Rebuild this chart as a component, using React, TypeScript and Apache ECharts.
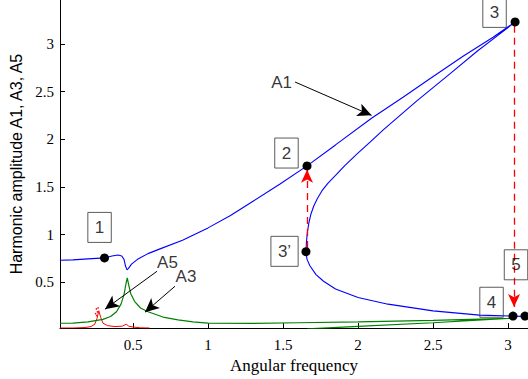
import React, { useEffect, useRef } from "react";
import * as echarts from "echarts";

// Harmonic amplitude curves (angular frequency, amplitude), in continuation order
const a1Curve: [number, number][] = [
  [0.013, 0.73], [0.1, 0.735], [0.2, 0.745], [0.31, 0.755], [0.36, 0.775], [0.4, 0.785],
  [0.425, 0.775], [0.44, 0.74], [0.45, 0.67], [0.46, 0.63], [0.47, 0.645], [0.49, 0.69],
  [0.53, 0.74], [0.6, 0.8], [0.68, 0.85], [0.83, 0.94], [1.0, 1.07], [1.15, 1.2],
  [1.3, 1.35], [1.48, 1.53], [1.66, 1.72], [1.85, 1.94], [2.09, 2.22], [2.3, 2.44],
  [2.469, 2.624], [2.7, 2.87], [2.9, 3.07], [3.047, 3.23],
  [2.95, 3.11], [2.8, 2.93], [2.6, 2.67], [2.39, 2.4], [2.28, 2.25], [2.17, 2.1],
  [2.08, 1.97], [1.99, 1.84], [1.91, 1.72], [1.85, 1.62], [1.8, 1.54], [1.76, 1.46],
  [1.73, 1.38], [1.705, 1.3], [1.685, 1.21], [1.672, 1.12], [1.662, 1.02], [1.656, 0.92],
  [1.653, 0.82],
  [1.66, 0.74], [1.68, 0.67], [1.72, 0.58], [1.77, 0.51], [1.85, 0.43], [2.0, 0.34],
  [2.2, 0.27], [2.5, 0.2], [2.81, 0.155], [3.03, 0.145], [3.133, 0.14],
];

const a3Curve: [number, number][] = [
  [0.013, 0.07], [0.1, 0.072], [0.2, 0.085], [0.26, 0.1], [0.3, 0.11], [0.35, 0.14],
  [0.39, 0.19], [0.42, 0.27], [0.44, 0.37], [0.455, 0.5], [0.462, 0.545], [0.47, 0.48],
  [0.485, 0.38], [0.51, 0.3], [0.55, 0.23], [0.6, 0.19], [0.7, 0.135], [0.8, 0.105],
  [0.9, 0.085], [1.0, 0.072], [1.3, 0.068], [1.6, 0.075], [2.0, 0.085], [2.5, 0.1],
  [3.0, 0.12], [3.047, 0.125],
  [3.0, 0.12], [2.5, 0.075], [2.0, 0.038], [1.8, 0.022], [1.66, 0.012],
];

const a5Curve: [number, number][] = [
  [0.013, 0.02], [0.1, 0.02], [0.18, 0.025], [0.22, 0.035], [0.245, 0.06], [0.26, 0.12],
  [0.272, 0.2], [0.285, 0.13], [0.3, 0.07], [0.33, 0.045], [0.38, 0.035], [0.43, 0.04],
  [0.455, 0.06], [0.47, 0.04], [0.5, 0.03], [0.55, 0.022], [0.61, 0.02],
];

const a5Noise: [number, number][] = [
  [0.25, 0.17], [0.255, 0.22], [0.262, 0.19], [0.267, 0.23], [0.258, 0.15],
];

// Marked states
const stateDots: [number, number][] = [
  [0.31, 0.755], [1.66, 1.72], [1.653, 0.82], [3.047, 3.23], [3.033, 0.145], [3.113, 0.145],
];
const boxNames = ["1", "2", "3", "3\u2019", "4", "5"];
const boxPos: [number, number][] = [
  [0.277, 1.075], [1.523, 1.855], [2.91, 3.33], [1.51, 0.824], [2.89, 0.29], [3.053, 0.683],
];

// Curve labels and arrows
const curveNames = ["A1", "A5", "A3"];
const curveNamePos: [number, number][] = [[1.49, 2.59], [0.73, 0.71], [0.853, 0.563]];
const curveArrows: [number, number][][] = [
  [[1.58, 2.6], [2.09, 2.25]],
  [[0.66, 0.615], [0.313, 0.218]],
  [[0.78, 0.458], [0.58, 0.186]],
];
const jumpArrows: [number, number][][] = [
  [[1.66, 0.86], [1.66, 1.68]],
  [[3.04, 3.19], [3.04, 0.24]],
];

const X_MIN = 0.0133;
const X_MAX = 3.133;
const Y_MIN = 0.019;
const Y_MAX = 3.46;

const SERIF = "'Liberation Serif', 'Times New Roman', Times, serif";
const SANS = "'Liberation Sans', Arial, Helvetica, sans-serif";

const tickFmt = (v: number) =>
  Math.abs(v * 2 - Math.round(v * 2)) < 1e-6 ? String(Math.round(v * 100) / 100) : "";

export default function App() {
  const ref = useRef<HTMLDivElement>(null);
  useEffect(() => {
    if (!ref.current) return;
    const chart = echarts.init(ref.current, null, { renderer: "svg" });
    const axisCommon = {
      type: "value" as const,
      axisLine: { show: true, lineStyle: { color: "#000", width: 1 } },
      axisTick: { show: true, inside: true, length: 5, lineStyle: { color: "#000" } },
      splitLine: { show: false },
      minInterval: 0.5,
      maxInterval: 0.5,
    };
    chart.setOption({
      animation: false,
      grid: { left: 60, right: 0, top: 0, bottom: 50 },
      xAxis: {
        ...axisCommon,
        min: X_MIN,
        max: X_MAX,
        name: "Angular frequency",
        nameLocation: "middle",
        nameGap: 24,
        nameTextStyle: { fontFamily: SERIF, fontSize: 17, color: "#000" },
        axisLabel: {
          showMinLabel: false,
          showMaxLabel: false,
          margin: 9,
          fontFamily: SERIF,
          fontSize: 15,
          color: "#000",
          formatter: tickFmt,
        },
      },
      yAxis: {
        ...axisCommon,
        min: Y_MIN,
        max: Y_MAX,
        name: "Harmonic amplitude A1, A3, A5",
        nameLocation: "middle",
        nameGap: 28,
        nameTextStyle: { fontFamily: SANS, fontSize: 16, color: "#000" },
        axisLabel: {
          showMinLabel: false,
          showMaxLabel: false,
          margin: 6,
          fontFamily: SERIF,
          fontSize: 15,
          color: "#000",
          formatter: tickFmt,
        },
      },
      series: [
        {
          type: "line",
          name: "A5",
          data: a5Curve,
          showSymbol: false,
          lineStyle: { color: "#ff0000", width: 1 },
          z: 2,
        },
        {
          type: "scatter",
          name: "A5 noise",
          data: a5Noise,
          symbolSize: 1.5,
          itemStyle: { color: "#ff0000", opacity: 1 },
          z: 2,
        },
        {
          type: "line",
          name: "A3",
          data: a3Curve,
          showSymbol: false,
          lineStyle: { color: "#008000", width: 1.2 },
          z: 3,
        },
        {
          type: "line",
          name: "A1",
          data: a1Curve,
          showSymbol: false,
          lineStyle: { color: "#0000ff", width: 1.1 },
          z: 4,
        },
        {
          type: "scatter",
          name: "jumps",
          data: [],
          z: 5,
          markLine: {
            silent: true,
            animation: false,
            symbol: ["none", "arrow"],
            symbolSize: [9, 13],
            label: { show: false },
            lineStyle: { color: "#ff0000", width: 1.3, type: [7, 5] },
            data: jumpArrows.map((a) => [{ coord: a[0] }, { coord: a[1] }]),
          },
        },
        {
          type: "scatter",
          name: "states",
          data: stateDots,
          symbolSize: 9,
          itemStyle: { color: "#000", opacity: 1 },
          z: 6,
        },
        {
          type: "scatter",
          name: "boxes",
          data: boxPos.map((p, i) => ({ value: p, name: boxNames[i] })),
          symbolSize: 1,
          itemStyle: { color: "transparent" },
          z: 7,
          label: {
            show: true,
            position: "inside",
            formatter: "{b}",
            fontFamily: SANS,
            fontSize: 17,
            color: "#000",
            borderColor: "#333",
            borderWidth: 1,
            padding: [7, 7, 6, 7],
          },
        },
        {
          type: "scatter",
          name: "curve labels",
          data: curveNamePos.map((p, i) => ({ value: p, name: curveNames[i] })),
          symbolSize: 1,
          itemStyle: { color: "transparent" },
          z: 7,
          label: {
            show: true,
            position: "inside",
            formatter: "{b}",
            fontFamily: SANS,
            fontSize: 17,
            color: "#000",
          },
          markLine: {
            silent: true,
            animation: false,
            symbol: ["none", "arrow"],
            symbolSize: [10, 14],
            label: { show: false },
            lineStyle: { color: "#000", width: 1, type: "solid" },
            data: curveArrows.map((a) => [{ coord: a[0] }, { coord: a[1] }]),
          },
        },
      ],
    });
    return () => chart.dispose();
  }, []);
  return (
    <div
      ref={ref}
      style={{ position: "absolute", left: 0, top: 0, width: 528, height: 379, background: "#fff" }}
    />
  );
}
